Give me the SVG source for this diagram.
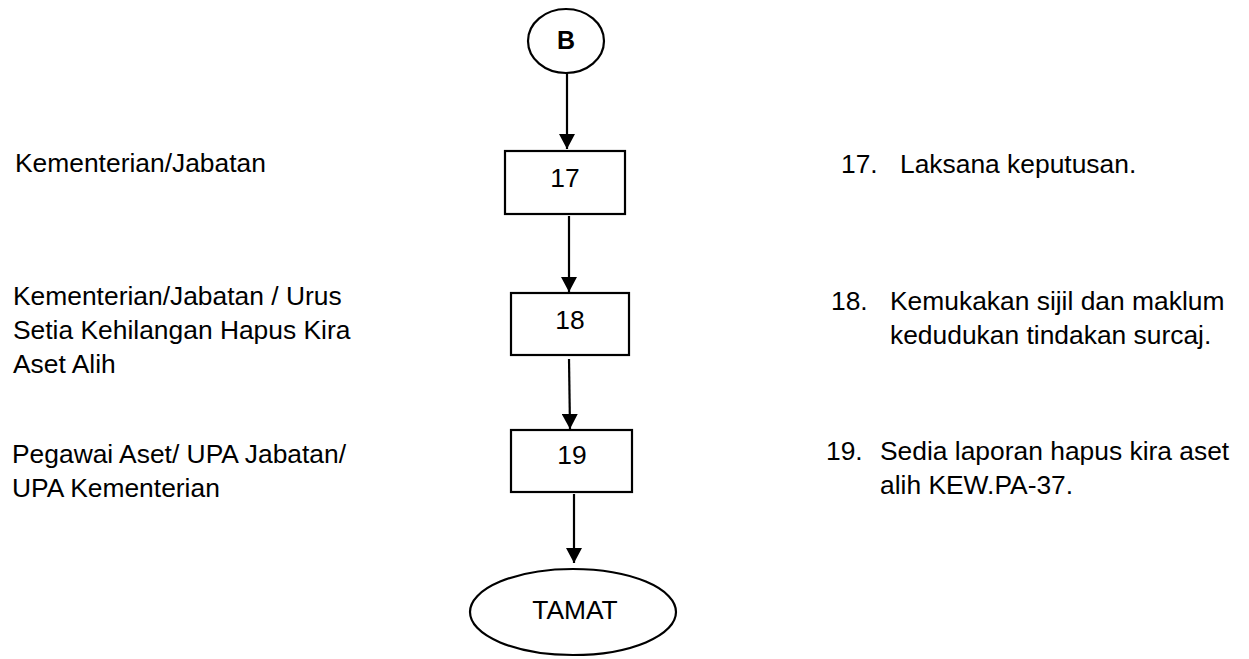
<svg xmlns="http://www.w3.org/2000/svg" width="1249" height="659" viewBox="0 0 1249 659">
<style>
.t{font-family:"Liberation Sans",Arial,sans-serif;font-size:26.4px;fill:#000}
.c{text-anchor:middle}
.s{fill:#fff;stroke:#000;stroke-width:2.2}
.e{stroke:#000;stroke-width:2.2;fill:none}
</style>
<defs>
<marker id="ah" markerUnits="userSpaceOnUse" markerWidth="16" markerHeight="16" viewBox="0 0 16 16" refX="15" refY="8" orient="auto">
<path d="M0,0 L15,8 L0,16 Z" fill="#000"/>
</marker>
</defs>
<rect width="1249" height="659" fill="#fff"/>
<g id="connectors">
<line class="e" x1="567" y1="73" x2="567" y2="149" marker-end="url(#ah)"/>
<line class="e" x1="569" y1="216" x2="569" y2="292" marker-end="url(#ah)"/>
<line class="e" x1="569" y1="359" x2="570" y2="429" marker-end="url(#ah)"/>
<line class="e" x1="574" y1="494" x2="574" y2="563" marker-end="url(#ah)"/>
</g>
<g id="nodeB">
<ellipse class="s" cx="566" cy="41" rx="38" ry="32"/>
<text class="t c" x="566" y="49" style="font-weight:bold;font-size:25px">B</text>
</g>
<g id="node17">
<rect class="s" x="505" y="151" width="120" height="63"/>
<text class="t c" x="565" y="187">17</text>
</g>
<g id="node18">
<rect class="s" x="511" y="293" width="118" height="62"/>
<text class="t c" x="570" y="329">18</text>
</g>
<g id="node19">
<rect class="s" x="511" y="430" width="121" height="62"/>
<text class="t c" x="572" y="464">19</text>
</g>
<g id="nodeTamat">
<ellipse class="s" cx="573" cy="612" rx="103" ry="43"/>
<text class="t c" x="575" y="619">TAMAT</text>
</g>
<g id="labels-left">
<text class="t" x="15" y="172">Kementerian/Jabatan</text>
<text class="t" x="13" y="305">Kementerian/Jabatan / Urus</text>
<text class="t" x="13" y="339">Setia Kehilangan Hapus Kira</text>
<text class="t" x="13" y="373">Aset Alih</text>
<text class="t" x="12" y="463">Pegawai Aset/ UPA Jabatan/</text>
<text class="t" x="12" y="497">UPA Kementerian</text>
</g>
<g id="labels-right">
<text class="t" x="841" y="173">17.</text>
<text class="t" x="900" y="173">Laksana keputusan.</text>
<text class="t" x="831" y="310">18.</text>
<text class="t" x="890" y="310">Kemukakan sijil dan maklum</text>
<text class="t" x="890" y="344">kedudukan tindakan surcaj.</text>
<text class="t" x="826" y="460">19.</text>
<text class="t" x="880" y="460">Sedia laporan hapus kira aset</text>
<text class="t" x="880" y="494">alih KEW.PA-37.</text>
</g>
</svg>
